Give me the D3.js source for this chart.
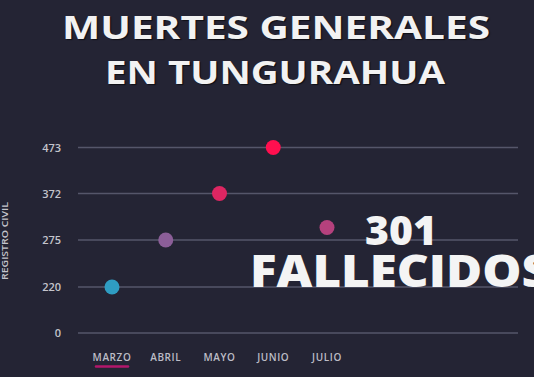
<!DOCTYPE html>
<html>
<head>
<meta charset="utf-8">
<script src="https://cdn.jsdelivr.net/npm/d3@7"></script>
<style>
  body { margin: 0; background: #242434; overflow: hidden; }
  text { font-family: "Open Sans", "DejaVu Sans", sans-serif; }
</style>
</head>
<body>
<svg></svg>
<script>
var months = ["MARZO", "ABRIL", "MAYO", "JUNIO", "JULIO"];
var deaths = [220, 275, 372, 473, 301];
var dotColors = ["#2f9dc2", "#8b5e98", "#dd2662", "#ff0f4f", "#b5417d"];
var yTicks = [0, 220, 275, 372, 473];

var w = 534,
    h = 377;

var svg = d3.select("svg")
  .attr("width", w)
  .attr("height", h)
  .style("background-color", "#242434");

// ticks are evenly spaced, not proportional
var y = d3.scaleLinear()
  .domain(yTicks)
  .range([333, 287, 240, 193.5, 147.5]);

var x = d3.scalePoint()
  .domain(months)
  .range([112, 327]);

// title
var title = svg.append("g")
  .attr("fill", "#f2f2f2")
  .attr("font-weight", 700)
  .attr("text-anchor", "middle")
  .style("text-shadow", "1px 1px 1px rgba(0,0,0,0.6)");
title.append("text")
  .attr("x", 276).attr("y", 39)
  .attr("font-size", 32)
  .attr("textLength", 428)
  .attr("lengthAdjust", "spacingAndGlyphs")
  .text("MUERTES GENERALES");
title.append("text")
  .attr("x", 275).attr("y", 84)
  .attr("font-size", 32)
  .attr("textLength", 340)
  .attr("lengthAdjust", "spacingAndGlyphs")
  .text("EN TUNGURAHUA");

// grid
svg.selectAll(".grid")
  .data(yTicks)
  .join("line")
  .attr("class", "grid")
  .attr("x1", 78)
  .attr("x2", 518)
  .attr("y1", function(d){ return y(d); })
  .attr("y2", function(d){ return y(d); })
  .attr("stroke", "#55566a")
  .attr("stroke-width", 1.5);

svg.selectAll(".ytick")
  .data(yTicks)
  .join("text")
  .attr("class", "ytick")
  .attr("x", 61)
  .attr("y", function(d){ return y(d) + 4; })
  .attr("text-anchor", "end")
  .attr("font-size", 11)
  .attr("font-weight", 600)
  .attr("fill", "#c4c4cc")
  .text(function(d){ return d; });

svg.append("text")
  .attr("transform", "translate(8,241) rotate(-90)")
  .attr("text-anchor", "middle")
  .attr("font-size", 8.5)
  .attr("font-weight", 600)
  .attr("fill", "#c4c4cc")
  .attr("textLength", 78)
  .attr("lengthAdjust", "spacingAndGlyphs")
  .text("REGISTRO CIVIL");

// x labels
svg.selectAll(".xlab")
  .data(months)
  .join("text")
  .attr("class", "xlab")
  .attr("x", function(d){ return x(d); })
  .attr("y", 361)
  .attr("text-anchor", "middle")
  .attr("font-size", 10)
  .attr("font-weight", 600)
  .attr("letter-spacing", 0.6)
  .attr("fill", "#bdbdc6")
  .text(function(d){ return d; });

svg.append("line")
  .attr("x1", x("MARZO") - 16)
  .attr("x2", x("MARZO") + 16)
  .attr("y1", 366.5).attr("y2", 366.5)
  .attr("stroke", "#b3176b")
  .attr("stroke-width", 2.5)
  .attr("stroke-linecap", "round");

// dots
svg.selectAll(".dot")
  .data(deaths)
  .join("circle")
  .attr("class", "dot")
  .attr("cx", function(d, i){ return x(months[i]); })
  .attr("cy", function(d){ return y(d); })
  .attr("r", 7.5)
  .attr("fill", function(d, i){ return dotColors[i]; });

// big callout, two lines in one text
var big = svg.append("text")
  .attr("fill", "#f4f4f4")
  .attr("font-weight", 800);
big.append("tspan")
  .attr("x", 401).attr("y", 245)
  .attr("text-anchor", "middle")
  .attr("font-size", 41)
  .text(deaths[4]);
big.append("tspan")
  .attr("x", 250).attr("y", 287)
  .attr("font-size", 45)
  .attr("textLength", 300)
  .attr("lengthAdjust", "spacingAndGlyphs")
  .text("FALLECIDOS");
</script>
</body>
</html>
